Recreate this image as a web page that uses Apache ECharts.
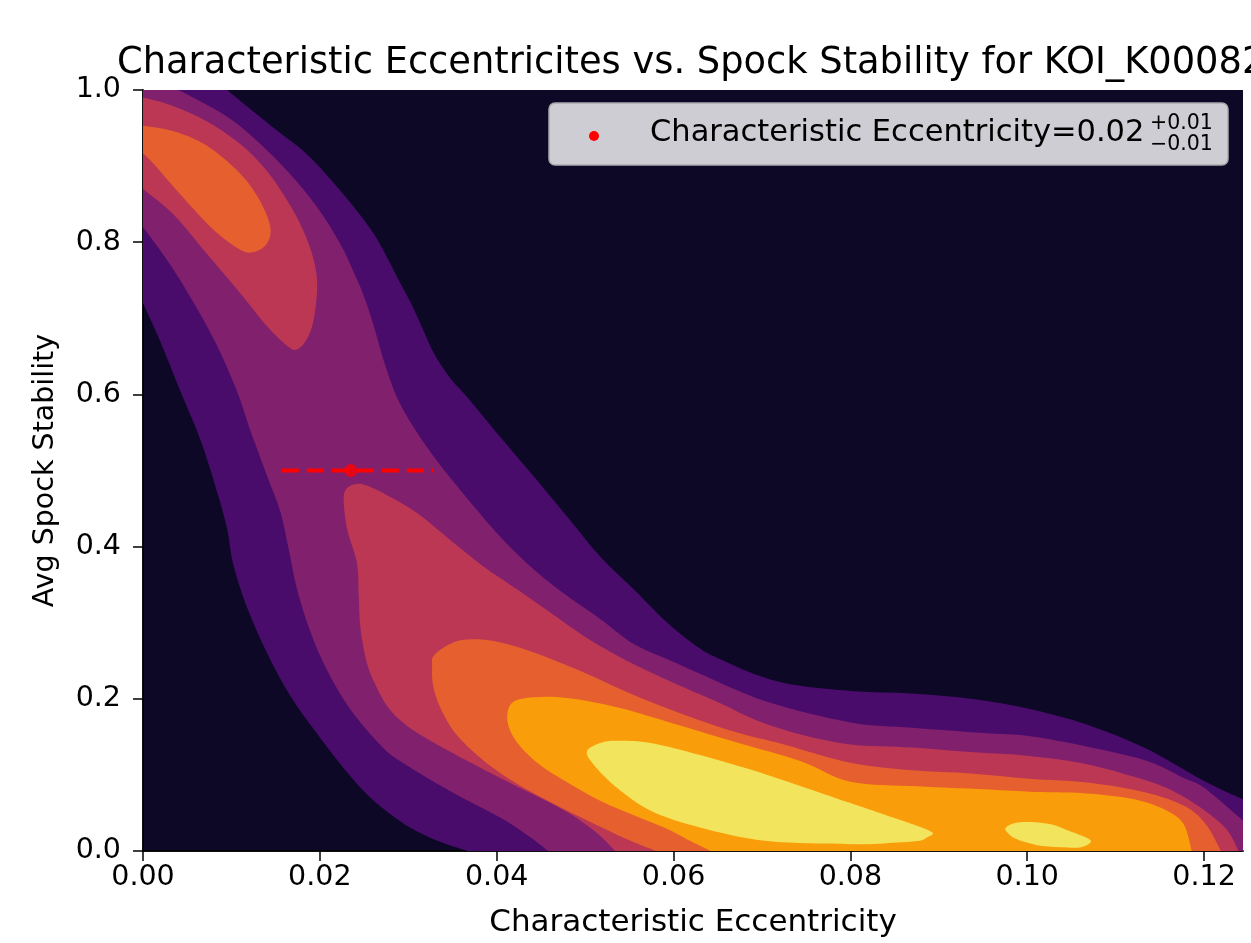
<!DOCTYPE html>
<html>
<head>
<meta charset="utf-8">
<script src="https://cdn.jsdelivr.net/npm/echarts@6/dist/echarts.min.js"></script>
<style>
  html, body { margin: 0; padding: 0; background: #fff; }
  #chart { width: 1251px; height: 943px; }
</style>
</head>
<body>
<div id="chart"></div>
<script>
// tick values
const xTicks = [0, 0.02, 0.04, 0.06, 0.08, 0.10, 0.12];
const yTicks = [0, 0.2, 0.4, 0.6, 0.8, 1.0];
const XMAX = 0.1244;

// characteristic eccentricity marker (value, lower/upper end of the error bar, stability)
const eccCenter = 0.0235;
const eccLow = 0.0157;
const eccHigh = 0.0328;
const stabY = 0.5;

// filled contour regions as [eccentricity, stability] rings
// outermost level (purple)
const level1Ring = [
  [0, 1.0], [0.0095, 1.0], [0.0148, 0.950], [0.0185, 0.916], [0.0223, 0.868], [0.0261, 0.811],
  [0.0291, 0.746], [0.0303, 0.720], [0.0316, 0.687], [0.0329, 0.654], [0.0347, 0.622],
  [0.0367, 0.596], [0.0404, 0.544], [0.0442, 0.492], [0.0480, 0.439], [0.0517, 0.387],
  [0.0555, 0.344], [0.0593, 0.300], [0.0630, 0.266], [0.0651, 0.253], [0.0695, 0.231],
  [0.0738, 0.218], [0.0804, 0.210], [0.0870, 0.207], [0.0936, 0.200], [0.1002, 0.187],
  [0.1068, 0.166], [0.1134, 0.135], [0.1200, 0.092], [XMAX, 0.068], [XMAX, 0],
  [0.0367, 0], [0.0336, 0.012], [0.0299, 0.033], [0.0261, 0.066], [0.0231, 0.103],
  [0.0197, 0.154], [0.0166, 0.205], [0.0140, 0.261], [0.0117, 0.322], [0.0102, 0.377],
  [0.0095, 0.424], [0.0083, 0.475], [0.0065, 0.540], [0.0042, 0.605], [0.0019, 0.671], [0, 0.720]
];
// level 2 (magenta)
const level2Ring = [
  [0, 1.0], [0.0040, 1.0], [0.0091, 0.968], [0.0129, 0.933], [0.0166, 0.890], [0.0197, 0.846],
  [0.0223, 0.798], [0.0242, 0.751], [0.0252, 0.722], [0.0262, 0.686], [0.0274, 0.638],
  [0.0291, 0.587], [0.0321, 0.531], [0.0359, 0.474], [0.0404, 0.413], [0.0442, 0.370],
  [0.0480, 0.335], [0.0517, 0.305], [0.0555, 0.272], [0.0593, 0.252], [0.0630, 0.233],
  [0.0706, 0.196], [0.0800, 0.169], [0.0870, 0.162], [0.0951, 0.155], [0.1002, 0.151],
  [0.1068, 0.137], [0.1134, 0.119], [0.1177, 0.096], [0.1200, 0.083], [XMAX, 0.040], [XMAX, 0],
  [0.0458, 0], [0.0438, 0.018], [0.0404, 0.044], [0.0347, 0.079], [0.0291, 0.118],
  [0.0268, 0.140], [0.0234, 0.187], [0.0208, 0.238], [0.0189, 0.289], [0.0174, 0.345],
  [0.0164, 0.401], [0.0155, 0.447], [0.0140, 0.494], [0.0121, 0.554], [0.0106, 0.605],
  [0.0083, 0.666], [0.0053, 0.729], [0.0027, 0.777], [0, 0.820]
];
// level 3 (red): upper-left blob and lower band
const level3TopRing = [
  [0, 0.990], [0.0034, 0.979], [0.0072, 0.959], [0.0110, 0.929], [0.0140, 0.894], [0.0163, 0.855],
  [0.0181, 0.816], [0.0193, 0.777], [0.0197, 0.742], [0.0193, 0.698], [0.0185, 0.672],
  [0.0174, 0.659], [0.0163, 0.664], [0.0140, 0.690], [0.0110, 0.733], [0.0072, 0.785],
  [0.0034, 0.837], [0, 0.870]
];
const level3LowRing = [
  [0.0227, 0.461], [0.0230, 0.476], [0.0240, 0.482], [0.0251, 0.481], [0.0272, 0.470],
  [0.0310, 0.444], [0.0347, 0.409], [0.0385, 0.374], [0.0423, 0.344], [0.0461, 0.313],
  [0.0498, 0.283], [0.0536, 0.257], [0.0574, 0.235], [0.0612, 0.215], [0.0653, 0.194],
  [0.0695, 0.171], [0.0744, 0.153], [0.0800, 0.140], [0.0870, 0.136], [0.0936, 0.130],
  [0.1002, 0.125], [0.1064, 0.115], [0.1134, 0.093], [0.1168, 0.077], [0.1196, 0.057],
  [0.1225, 0.029], [0.1239, 0],
  [0.0534, 0], [0.0512, 0.025], [0.0480, 0.051], [0.0442, 0.074], [0.0404, 0.096],
  [0.0366, 0.119], [0.0325, 0.145], [0.0297, 0.166], [0.0277, 0.189], [0.0263, 0.218],
  [0.0253, 0.248], [0.0246, 0.292], [0.0244, 0.335], [0.0242, 0.378], [0.0231, 0.422]
];
// level 4 (orange)
const level4TopRing = [
  [0, 0.953], [0.0034, 0.946], [0.0072, 0.927], [0.0110, 0.890], [0.0132, 0.855], [0.0144, 0.820],
  [0.0140, 0.798], [0.0125, 0.787], [0.0110, 0.790], [0.0080, 0.816], [0.0042, 0.863],
  [0.0012, 0.903], [0, 0.917]
];
const level4LowRing = [
  [0.0327, 0.244], [0.0329, 0.257], [0.0347, 0.272], [0.0366, 0.278], [0.0397, 0.276],
  [0.0442, 0.261], [0.0498, 0.235], [0.0555, 0.205], [0.0612, 0.179], [0.0668, 0.157],
  [0.0725, 0.140], [0.0800, 0.116], [0.0870, 0.106], [0.0936, 0.102], [0.1002, 0.095],
  [0.1068, 0.090], [0.1134, 0.077], [0.1178, 0.059], [0.1202, 0.035], [0.1219, 0],
  [0.0580, 0], [0.0546, 0.016], [0.0506, 0.038], [0.0461, 0.064], [0.0415, 0.094],
  [0.0381, 0.123], [0.0353, 0.155], [0.0336, 0.189], [0.0328, 0.218]
];
// level 5 (amber)
const level5Ring = [
  [0.0412, 0.179], [0.0419, 0.196], [0.0442, 0.202], [0.0480, 0.201], [0.0536, 0.189],
  [0.0593, 0.170], [0.0668, 0.144], [0.0744, 0.118], [0.0800, 0.091], [0.0876, 0.085],
  [0.0951, 0.081], [0.1002, 0.078], [0.1064, 0.076], [0.1121, 0.068], [0.1158, 0.053],
  [0.1177, 0.035], [0.1186, 0],
  [0.0642, 0], [0.0619, 0.013], [0.0593, 0.029], [0.0555, 0.047], [0.0517, 0.066],
  [0.0480, 0.090], [0.0449, 0.113], [0.0427, 0.137], [0.0415, 0.159]
];
// level 6 (yellow), two islands
const level6MainRing = [
  [0.0502, 0.131], [0.0517, 0.142], [0.0536, 0.145], [0.0574, 0.142], [0.0630, 0.126],
  [0.0706, 0.100], [0.0800, 0.063], [0.0838, 0.048], [0.0876, 0.033], [0.0893, 0.024],
  [0.0887, 0.018], [0.0876, 0.013], [0.0838, 0.010], [0.0800, 0.009], [0.0706, 0.013],
  [0.0630, 0.031], [0.0574, 0.053], [0.0536, 0.083], [0.0510, 0.113]
];
const level6SmallRing = [
  [0.0976, 0.031], [0.0987, 0.037], [0.1004, 0.038], [0.1027, 0.035], [0.1046, 0.027],
  [0.1066, 0.018], [0.1072, 0.012], [0.1061, 0.005], [0.1038, 0.005], [0.1010, 0.008],
  [0.0987, 0.016], [0.0977, 0.025]
];

const levelColors = ['#4a0c6b', '#81206c', '#bc3754', '#e65f2f', '#fa9d0a', '#f2e45c'];
const bgColor = '#0c0826';
const FONT = 'DejaVu Sans';

// point lies on the frame of the plot
function onFrame(p) {
  return p[0] <= 0 || p[0] >= XMAX || p[1] <= 0 || p[1] >= 1;
}

// smooth outline through the ring points, straight along the frame
function ringPath(ring, api) {
  const pts = ring.map(p => api.coord(p));
  const edge = ring.map(onFrame);
  const n = pts.length;
  const f = v => v.toFixed(2);
  let d = 'M' + f(pts[0][0]) + ' ' + f(pts[0][1]);
  for (let i = 0; i < n; i++) {
    const j = (i + 1) % n;
    const p1 = pts[i], p2 = pts[j];
    if (edge[i] && edge[j]) {
      d += ' L' + f(p2[0]) + ' ' + f(p2[1]);
      continue;
    }
    const h = (i - 1 + n) % n, k = (i + 2) % n;
    const p0 = (edge[h] && edge[i]) ? p1 : pts[h];
    const p3 = (edge[j] && edge[k]) ? p2 : pts[k];
    const c1 = [p1[0] + (p2[0] - p0[0]) / 6, p1[1] + (p2[1] - p0[1]) / 6];
    const c2 = [p2[0] - (p3[0] - p1[0]) / 6, p2[1] - (p3[1] - p1[1]) / 6];
    d += ' C' + f(c1[0]) + ' ' + f(c1[1]) + ' ' + f(c2[0]) + ' ' + f(c2[1]) + ' ' + f(p2[0]) + ' ' + f(p2[1]);
  }
  return d + ' Z';
}

function contourSeries(rings, color) {
  return {
    type: 'custom',
    coordinateSystem: 'cartesian2d',
    clip: true,
    silent: true,
    data: rings.map((r, i) => [r[0][0], r[0][1], i]),
    renderItem: function (params, api) {
      const ring = rings[params.dataIndex];
      return {
        type: 'path',
        shape: { pathData: ringPath(ring, api) },
        style: { fill: color, stroke: null }
      };
    }
  };
}

const chart = echarts.init(document.getElementById('chart'));

const axisLineStyle = { show: true, lineStyle: { color: '#000', width: 1.5 } };

chart.setOption({
  animation: false,
  backgroundColor: '#fff',
  title: {
    text: 'Characteristic Eccentricites vs. Spock Stability for KOI_K00082',
    left: 117,
    top: 45,
    padding: 0,
    textStyle: { fontFamily: FONT, fontSize: 36.8, fontWeight: 'normal', color: '#000' }
  },
  grid: {
    left: 143, top: 90, width: 1100, height: 767,
    show: true, backgroundColor: bgColor, borderWidth: 0
  },
  xAxis: [{
    type: 'value', min: 0, max: XMAX, position: 'bottom',
    axisLine: axisLineStyle,
    axisTick: { show: true, length: 10, lineStyle: { color: '#000', width: 1.5 }, customValues: xTicks },
    axisLabel: {
      customValues: xTicks, margin: 12, color: '#000', fontFamily: FONT, fontSize: 28.5,
      formatter: v => v.toFixed(2)
    },
    splitLine: { show: false },
    name: 'Characteristic Eccentricity', nameLocation: 'middle', nameGap: 56,
    nameTextStyle: { fontFamily: FONT, fontSize: 31, color: '#000' }
  }, {
    type: 'value', min: 0, max: XMAX, position: 'top',
    axisLine: axisLineStyle, axisTick: { show: false }, axisLabel: { show: false },
    splitLine: { show: false }
  }],
  yAxis: [{
    type: 'value', min: 0, max: 1, interval: 0.2, position: 'left',
    axisLine: axisLineStyle,
    axisTick: { show: true, length: 10, lineStyle: { color: '#000', width: 1.5 }, customValues: yTicks },
    axisLabel: {
      customValues: yTicks, margin: 22, color: '#000', fontFamily: FONT, fontSize: 28.5,
      formatter: v => v.toFixed(1)
    },
    splitLine: { show: false },
    name: 'Avg Spock Stability', nameLocation: 'middle', nameGap: 83,
    nameTextStyle: { fontFamily: FONT, fontSize: 28.5, color: '#000' }
  }, {
    type: 'value', min: 0, max: 1, position: 'right',
    axisLine: axisLineStyle, axisTick: { show: false }, axisLabel: { show: false },
    splitLine: { show: false }
  }],
  series: [
    contourSeries([level1Ring], levelColors[0]),
    contourSeries([level2Ring], levelColors[1]),
    contourSeries([level3TopRing, level3LowRing], levelColors[2]),
    contourSeries([level4TopRing, level4LowRing], levelColors[3]),
    contourSeries([level5Ring], levelColors[4]),
    contourSeries([level6MainRing, level6SmallRing], levelColors[5]),
    {
      type: 'line',
      data: [[eccLow, stabY], [eccHigh, stabY]],
      symbol: 'none',
      lineStyle: { color: '#ff0000', width: 4, type: [17, 8] },
      z: 10, silent: true
    },
    {
      type: 'scatter',
      data: [[eccCenter, stabY]],
      symbolSize: 13,
      itemStyle: { color: '#ff0000' },
      z: 11, silent: true
    }
  ],
  graphic: [
    {
      type: 'rect', z: 100,
      shape: { x: 549, y: 103, width: 679, height: 62, r: 6 },
      style: { fill: 'rgba(255,255,255,0.8)', stroke: '#a9a9ad', lineWidth: 1.5 }
    },
    {
      type: 'circle', z: 101,
      shape: { cx: 594, cy: 136, r: 5 },
      style: { fill: '#ff0000' }
    },
    {
      type: 'text', z: 101, x: 650, y: 133,
      style: {
        text: 'Characteristic Eccentricity=0.02', fill: '#000',
        font: '30.5px "DejaVu Sans"', verticalAlign: 'middle', align: 'left'
      }
    },
    {
      type: 'text', z: 101, x: 1150, y: 124,
      style: { text: '+0.01', fill: '#000', font: '20.5px "DejaVu Sans"', verticalAlign: 'middle' }
    },
    {
      type: 'text', z: 101, x: 1150, y: 145,
      style: { text: '\u22120.01', fill: '#000', font: '20.5px "DejaVu Sans"', verticalAlign: 'middle' }
    }
  ]
});
</script>
</body>
</html>
